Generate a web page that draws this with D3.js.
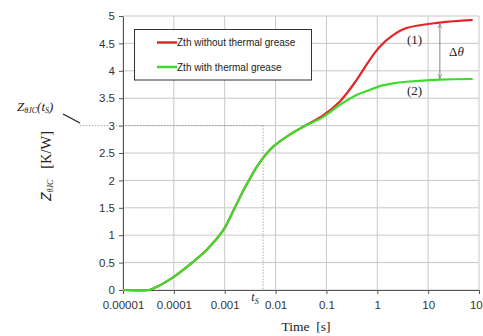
<!DOCTYPE html>
<html>
<head>
<meta charset="utf-8">
<script src="https://cdn.jsdelivr.net/npm/d3@7.9.0/dist/d3.min.js"></script>
<style>
  body { margin: 0; background: #fff; }
  svg { display: block; }
</style>
</head>
<body>
<svg id="chart" width="483" height="336"></svg>
<script>
// time points [s] and Zth values [K/W]
const times    = [1e-5, 3.2e-5, 4e-5, 1e-4, 2.44e-4, 4.5e-4, 9.5e-4, 1.5e-3, 2.34e-3, 3.16e-3, 4.3e-3, 5.8e-3, 9.1e-3, 0.0166, 0.035, 0.087, 0.184, 0.39, 0.71, 1.12, 2.04, 3.74, 16.8, 75];
const zthRed   = [0, 0, 0.03, 0.24, 0.52, 0.74, 1.10, 1.46, 1.82, 2.04, 2.25, 2.42, 2.62, 2.80, 2.98, 3.19, 3.44, 3.83, 4.20, 4.44, 4.65, 4.78, 4.88, 4.93];
const zthGreen = [0, 0, 0.03, 0.24, 0.52, 0.74, 1.10, 1.46, 1.82, 2.04, 2.25, 2.42, 2.62, 2.80, 2.98, 3.16, 3.38, 3.56, 3.65, 3.72, 3.77, 3.80, 3.84, 3.85];
const xTicks = [1e-5, 1e-4, 1e-3, 1e-2, 1e-1, 1, 10, 100];
const xTickLabels = ["0.00001", "0.0001", "0.001", "0.01", "0.1", "1", "10", "100"];
const yTicks = [0, 0.5, 1, 1.5, 2, 2.5, 3, 3.5, 4, 4.5, 5];
const seriesNames = ["Zth without thermal grease", "Zth with thermal grease"];
const seriesColors = ["#e3262b", "#3bdc2a"];
const tS = 0.0057, zAtTs = 3;
const deltaT = 17;

(function () {
const svg = d3.select("#chart");
const pLeft = 123, pRight = 479, pTop = 16, pBottom = 290;

const x = d3.scaleLog().domain([1e-5, 100]).range([pLeft, pRight]);
const y = d3.scaleLinear().domain([0, 5]).range([pBottom, pTop]);

// grid
const grid = svg.append("g");
grid.selectAll(".gx").data(xTicks).enter().append("line")
  .attr("x1", d => x(d)).attr("x2", d => x(d))
  .attr("y1", pTop).attr("y2", pBottom)
  .attr("stroke", "#c8c8c8").attr("stroke-width", 1);
grid.selectAll(".gy").data(yTicks).enter().append("line")
  .attr("x1", pLeft).attr("x2", pRight)
  .attr("y1", d => y(d)).attr("y2", d => y(d))
  .attr("stroke", "#c8c8c8").attr("stroke-width", 1);

// axes
const xAxis = svg.append("g").attr("transform", `translate(0,${pBottom})`)
  .call(d3.axisBottom(x).tickValues(xTicks).tickFormat((d, i) => xTickLabels[i]).tickSize(4).tickSizeOuter(0));
const yAxis = svg.append("g").attr("transform", `translate(${pLeft},0)`)
  .call(d3.axisLeft(y).tickValues(yTicks).tickFormat(d3.format("~g")).tickSize(4).tickSizeOuter(0));
[xAxis, yAxis].forEach(a => {
  a.select(".domain").attr("stroke", "#555");
  a.selectAll(".tick line").attr("stroke", "#555");
  a.selectAll("text").attr("font-family", "Liberation Sans, Arial, sans-serif")
    .attr("font-size", 11.5).attr("fill", "#333");
});
xAxis.selectAll("text").attr("dy", "1.05em");
yAxis.selectAll("text").attr("x", -8);

// ts guide lines
svg.append("path")
  .attr("d", `M80,${y(zAtTs)} H${x(tS)} V${pBottom}`)
  .attr("fill", "none").attr("stroke", "#999").attr("stroke-width", 0.8)
  .attr("stroke-dasharray", "1.5,1.5");

// curves
const line = d3.line().x(d => x(d[0])).y(d => y(d[1])).curve(d3.curveCatmullRom.alpha(0.5));
const series = [zthRed, zthGreen];
series.forEach((vals, i) => {
  svg.append("path")
    .datum(times.map((t, j) => [t, vals[j]]))
    .attr("d", line)
    .attr("fill", "none")
    .attr("stroke", seriesColors[i])
    .attr("stroke-width", 2.2);
});

// legend
const lg = svg.append("g");
lg.append("rect").attr("x", 134.5).attr("y", 29.5).attr("width", 177).attr("height", 50.5)
  .attr("fill", "#fff").attr("stroke", "#333").attr("stroke-width", 1);
seriesNames.forEach((name, i) => {
  const ly = 42.5 + i * 24.5;
  lg.append("line").attr("x1", 157).attr("x2", 177).attr("y1", ly).attr("y2", ly)
    .attr("stroke", seriesColors[i]).attr("stroke-width", 2.5);
  lg.append("text").attr("x", 177).attr("y", ly).attr("dy", "0.35em")
    .attr("font-family", "Liberation Sans, Arial, sans-serif").attr("font-size", 10)
    .attr("fill", "#222").text(name);
});

// delta theta arrow
const ax = x(deltaT);
svg.append("defs").append("marker").attr("id", "ah")
  .attr("viewBox", "0 0 10 10").attr("refX", 10).attr("refY", 5)
  .attr("markerWidth", 6).attr("markerHeight", 6).attr("orient", "auto-start-reverse")
  .append("path").attr("d", "M0,1 L10,5 L0,9").attr("fill", "none").attr("stroke", "#666").attr("stroke-width", 1.2);
svg.append("line").attr("x1", ax).attr("x2", ax)
  .attr("y1", y(4.88) + 1).attr("y2", y(3.84) - 1)
  .attr("stroke", "#666").attr("stroke-width", 0.8)
  .attr("marker-start", "url(#ah)").attr("marker-end", "url(#ah)");

const serif = "Liberation Serif, Times New Roman, serif";
const ann = svg.append("g").attr("font-family", serif).attr("fill", "#222");
ann.append("text").attr("x", 449).attr("y", 56).attr("font-size", 13)
  .html('Δ<tspan font-style="italic">θ</tspan>');
ann.append("text").attr("x", 407).attr("y", 44).attr("font-size", 13).text("(1)");
ann.append("text").attr("x", 407).attr("y", 95).attr("font-size", 13).text("(2)");

// ts label
ann.append("text").attr("x", 255).attr("y", 301).attr("font-size", 12)
  .attr("font-style", "italic").attr("text-anchor", "middle")
  .html('t<tspan font-size="8" dy="3">S</tspan>');

// Z(ts) label and pointer
ann.append("text").attr("x", 17).attr("y", 111).attr("font-size", 13)
  .attr("font-style", "italic")
  .html('Z<tspan font-size="8" dy="2">θJC</tspan><tspan dy="-2">(t</tspan><tspan font-size="8" dy="2">S</tspan><tspan dy="-2">)</tspan>');
svg.append("line").attr("x1", 63).attr("y1", 114).attr("x2", 80).attr("y2", 123)
  .attr("stroke", "#222").attr("stroke-width", 1.3);

// axis titles
ann.append("text").attr("transform", "translate(51,166) rotate(-90)")
  .attr("text-anchor", "middle").attr("font-size", 14.5)
  .html('<tspan font-style="italic" font-family="Liberation Sans, Arial, sans-serif" font-size="14">Z</tspan><tspan font-size="8" dy="2" font-style="italic">θJC</tspan><tspan dy="-2" xml:space="preserve">   [K/W]</tspan>');
ann.append("text").attr("x", 306).attr("y", 331).attr("text-anchor", "middle")
  .attr("font-size", 13.5).attr("xml:space", "preserve").text("Time  [s]");
})();
</script>
</body>
</html>
